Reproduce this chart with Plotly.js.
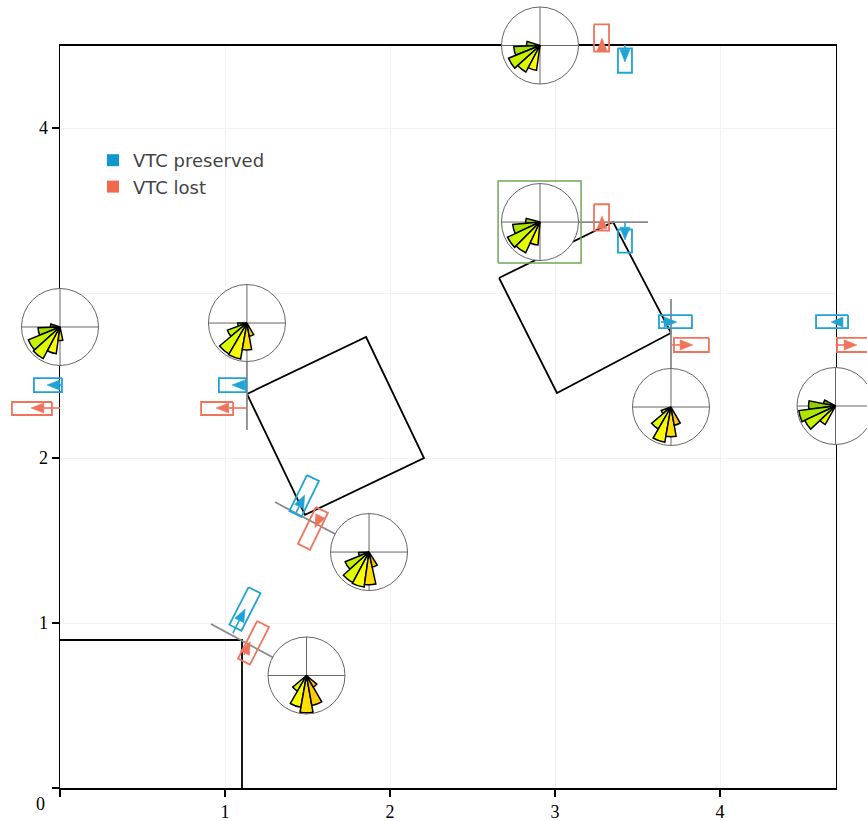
<!DOCTYPE html>
<html><head><meta charset="utf-8">
<script src="https://cdn.plot.ly/plotly-3.0.1.min.js"></script>
<style>html,body{margin:0;padding:0;overflow:hidden;background:#fff}</style>
</head><body><div id="chart" style="width:880px;height:821px"></div>
<script>
// ---------------- data (data units) ----------------
const seriesNames = ['VTC preserved', 'VTC lost'];
const xTickVals = [0, 1, 2, 3, 4];
const xTickText = ['', '1', '2', '3', '4'];
const yTickVals = [0, 1, 2, 4];
const yTickText = ['', '1', '2', '4'];

// obstacles
const sq1X = [0, 1.103, 1.103];
const sq1Y = [0.897, 0.897, 0];
const sq2X = [1.133, 1.855, 2.206, 1.485, 1.133];
const sq2Y = [2.388, 2.733, 2.000, 1.655, 2.388];
const sq3X = [2.661, 3.352, 3.703, 3.012, 2.661];
const sq3Y = [3.091, 3.430, 2.758, 2.394, 3.091];

// sensor lines
const lineX0 = [2.909, 3.703, 1.133, 1.303, 0.915];
const lineY0 = [3.430, 2.964, 2.818, 1.733, 0.994];
const lineX1 = [3.564, 3.703, 1.133, 1.873, 1.494];
const lineY1 = [3.430, 2.309, 2.170, 1.430, 0.682];

// highlighted rose box
const boxX = [2.655, 3.158, 3.158, 2.655, 2.655];
const boxY = [3.182, 3.182, 3.679, 3.679, 3.182];

// rose diagrams: centre + wedges
const roseX = [2.909, 2.909, 0.000, 1.133, 1.873, 1.494, 3.703, 4.700];
const roseY = [4.500, 3.430, 2.794, 2.818, 1.430, 0.682, 2.309, 2.315];
const roseTheta = [
  [172, 192, 212, 232, 252],
  [175, 195, 215, 235, 255],
  [172, 192, 212, 232, 252, 272],
  [190, 210, 230, 250, 270, 290],
  [192, 212, 232, 252, 272, 292],
  [230, 250, 270, 290, 310],
  [210, 230, 250, 270, 290],
  [160, 178, 196, 214, 232]
];
const roseR = [
  [0.35, 0.68, 0.88, 0.78, 0.65],
  [0.37, 0.71, 0.93, 0.88, 0.60],
  [0.25, 0.57, 0.89, 0.93, 0.70, 0.35],
  [0.24, 0.54, 0.93, 0.95, 0.70, 0.35],
  [0.27, 0.67, 0.90, 0.92, 0.85, 0.40],
  [0.47, 0.84, 0.97, 0.79, 0.35],
  [0.27, 0.66, 0.93, 0.77, 0.48],
  [0.32, 0.70, 0.96, 0.88, 0.55]
];
const roseWidth = [20, 20, 20, 20, 20, 20, 20, 18];

// gauge rectangles (series 0 = preserved, 1 = lost)
const rectSeries = [1, 0, 1, 0, 0, 1, 0, 1, 0, 1, 0, 1, 0, 1, 0, 1];
const rectCX = [3.282, 3.424, 3.282, 3.424, 3.730, 3.827, 4.679, 4.815, -0.073, -0.170, 1.045, 0.952, 1.480, 1.533, 1.121, 1.173];
const rectCY = [4.545, 4.409, 3.458, 3.315, 2.827, 2.685, 2.827, 2.685, 2.442, 2.300, 2.442, 2.300, 1.770, 1.573, 1.085, 0.880];
const rectAngle = [90, 90, 90, 90, 0, 0, 0, 0, 0, 0, 0, 0, 64, 64, 63, 63];
const rectLen = [0.165, 0.148, 0.160, 0.140, 0.200, 0.212, 0.194, 0.212, 0.170, 0.242, 0.164, 0.194, 0.242, 0.248, 0.255, 0.255];
const rectWid = [0.091, 0.085, 0.091, 0.085, 0.079, 0.085, 0.079, 0.085, 0.085, 0.079, 0.085, 0.079, 0.081, 0.081, 0.081, 0.081];

// gauge arrows
const arrowSeries = rectSeries;
const arrowTailX = [3.285, 3.424, 3.285, 3.424, 3.642, 3.703, 4.745, 4.700, 0.006, 0.000, 1.133, 1.133, 1.430, 1.579, 1.048, 1.115];
const arrowTailY = [4.461, 4.503, 3.382, 3.430, 2.824, 2.685, 2.824, 2.685, 2.442, 2.303, 2.442, 2.303, 1.667, 1.649, 0.939, 0.806];
const arrowTipX  = [3.285, 3.424, 3.285, 3.424, 3.739, 3.836, 4.673, 4.830, -0.079, -0.176, 1.042, 0.945, 1.483, 1.544, 1.122, 1.153];
const arrowTipY  = [4.545, 4.400, 3.467, 3.321, 2.824, 2.685, 2.824, 2.685, 2.442, 2.303, 2.442, 2.303, 1.776, 1.578, 1.085, 0.888];

// ---------------- layout constants ----------------
const W = 880, H = 821;
const L = 60, B = 788, S = 165;     // plot left px, bottom px, px per unit
const XMAX = 4.7, YMAX = 4.5;
const ROSE_R = 38.5;
const HEAD_LEN = 0.078, HEAD_WID = 0.062;
const seriesColor = ['#1fa3d6', '#f0735c'];
const legendColor = ['#0e98cf', '#f0694f'];
const serif = 'Liberation Serif';
const TICK_SIZE = 18;

const traces = [];
function lineTrace(xs, ys, color, width) {
  traces.push({type: 'scatter', mode: 'lines', x: xs, y: ys, xaxis: 'x2', yaxis: 'y2',
    line: {color: color, width: width}, hoverinfo: 'skip', showlegend: false});
}

// legend entries (on the framed axes so that subplot is created)
for (let s = 0; s < 2; s++) {
  traces.push({type: 'scatter', mode: 'markers', x: [null], y: [null], xaxis: 'x', yaxis: 'y',
    name: seriesNames[s], marker: {symbol: 'square', size: 12, color: legendColor[s]}, showlegend: true});
}

lineTrace(sq1X, sq1Y, '#000', 1.8);
lineTrace(sq2X, sq2Y, '#000', 1.8);
lineTrace(sq3X, sq3Y, '#000', 1.8);

// sensor lines
{
  const xs = [], ys = [];
  for (let i = 0; i < lineX0.length; i++) { xs.push(lineX0[i], lineX1[i], null); ys.push(lineY0[i], lineY1[i], null); }
  lineTrace(xs, ys, '#8a8a8a', 1.8);
}
lineTrace(boxX, boxY, '#6fa855', 1.5);

// rectangles + arrows per series
for (let s = 0; s < 2; s++) {
  const rx = [], ry = [], ax = [], ay = [], sx = [], sy = [];
  for (let i = 0; i < rectCX.length; i++) {
    if (rectSeries[i] !== s) continue;
    const a = rectAngle[i] * Math.PI / 180;
    const dx = Math.cos(a), dy = Math.sin(a), nx = -dy, ny = dx;
    const hl = rectLen[i] / 2, hw = rectWid[i] / 2;
    const c = [[hl, hw], [hl, -hw], [-hl, -hw], [-hl, hw], [hl, hw]];
    c.forEach(p => { rx.push(rectCX[i] + dx * p[0] + nx * p[1]); ry.push(rectCY[i] + dy * p[0] + ny * p[1]); });
    rx.push(null); ry.push(null);
  }
  for (let i = 0; i < arrowTailX.length; i++) {
    if (arrowSeries[i] !== s) continue;
    let vx = arrowTipX[i] - arrowTailX[i], vy = arrowTipY[i] - arrowTailY[i];
    const dist = Math.hypot(vx, vy); vx /= dist; vy /= dist;
    const hlen = Math.min(HEAD_LEN, dist);
    const bx = arrowTipX[i] - vx * hlen, by = arrowTipY[i] - vy * hlen;
    const nx = -vy, ny = vx;
    ax.push(arrowTipX[i], bx + nx * HEAD_WID / 2, bx - nx * HEAD_WID / 2, arrowTipX[i], null);
    ay.push(arrowTipY[i], by + ny * HEAD_WID / 2, by - ny * HEAD_WID / 2, arrowTipY[i], null);
    if (dist - hlen > 0.004) { sx.push(arrowTailX[i], bx, null); sy.push(arrowTailY[i], by, null); }
  }
  lineTrace(rx, ry, seriesColor[s], 1.8);
  if (sx.length) lineTrace(sx, sy, seriesColor[s], 1.6);
  traces.push({type: 'scatter', mode: 'lines', x: ax, y: ay, xaxis: 'x2', yaxis: 'y2', fill: 'toself',
    fillcolor: seriesColor[s], line: {color: seriesColor[s], width: 0.5}, hoverinfo: 'skip', showlegend: false});
}

const roseScale = [[0, '#78b400'], [0.125, '#96d200'], [0.25, '#b4ea00'], [0.375, '#d2f800'], [0.5, '#ecff00'],
  [0.594, '#ffff00'], [0.6875, '#ffe000'], [0.8125, '#ffcc00'], [1, '#ffb800']];

const layout = {
  width: W, height: H,
  margin: {l: 0, r: 0, t: 0, b: 0},
  paper_bgcolor: '#fff', plot_bgcolor: 'rgba(0,0,0,0)',
  showlegend: true,
  legend: {x: 93 / W, y: 1 - 142 / H, xanchor: 'left', yanchor: 'top', bgcolor: 'rgba(0,0,0,0)',
    font: {family: 'DejaVu Sans', size: 18, color: '#444'}, itemwidth: 30, tracegroupgap: 0},
  xaxis: {domain: [L / W, (L + XMAX * S) / W], range: [0, XMAX], anchor: 'y', showline: true, mirror: true,
    linecolor: '#000', linewidth: 1.5, ticks: 'outside', ticklen: 7, tickwidth: 1.5, tickcolor: '#000',
    tickmode: 'array', tickvals: xTickVals, ticktext: xTickText, showgrid: true, gridcolor: '#f2f2f2', zeroline: false,
    tickfont: {family: serif, size: TICK_SIZE, color: '#000'}, fixedrange: true},
  yaxis: {domain: [(H - B) / H, (H - B + YMAX * S) / H], range: [0, YMAX], anchor: 'x', showline: true, mirror: true,
    linecolor: '#000', linewidth: 1.5, ticks: 'outside', ticklen: 7, tickwidth: 1.5, tickcolor: '#000',
    tickmode: 'array', tickvals: yTickVals, ticktext: yTickText, showgrid: true, gridcolor: '#f2f2f2', zeroline: false,
    minor: {tickvals: [3], showgrid: true, gridcolor: '#f2f2f2', ticks: ''},
    tickfont: {family: serif, size: TICK_SIZE, color: '#000'}, fixedrange: true},
  xaxis2: {domain: [0, 1], range: [-L / S, (W - L) / S], anchor: 'y2', visible: false, fixedrange: true},
  yaxis2: {domain: [0, 1], range: [-(H - B) / S, B / S], anchor: 'x2', visible: false, fixedrange: true},
  annotations: [{xref: 'paper', yref: 'paper', x: 40 / W, y: 1 - 804 / H, xanchor: 'center', yanchor: 'middle',
    text: '0', showarrow: false, font: {family: serif, size: TICK_SIZE, color: '#000'}}]
};

for (let i = 0; i < roseX.length; i++) {
  const key = 'polar' + (i ? i + 1 : '');
  const px = L + roseX[i] * S, py = B - roseY[i] * S;
  layout[key] = {
    domain: {x: [(px - ROSE_R) / W, (px + ROSE_R) / W], y: [(H - py - ROSE_R) / H, (H - py + ROSE_R) / H]},
    bgcolor: '#fff',
    radialaxis: {visible: true, range: [0, 1], autorange: false, showline: false, showticklabels: false,
      ticks: '', showgrid: false},
    angularaxis: {showline: true, linecolor: '#666', linewidth: 1, showgrid: true, gridcolor: '#666', gridwidth: 1,
      tickmode: 'linear', tick0: 0, dtick: 90, showticklabels: false, ticks: ''}
  };
  traces.push({type: 'barpolar', subplot: key, r: roseR[i], theta: roseTheta[i], width: roseWidth[i],
    marker: {color: roseTheta[i], colorscale: roseScale, cmin: 160, cmax: 320, line: {color: '#000', width: 1.5}},
    hoverinfo: 'skip', showlegend: false});
}

Plotly.newPlot('chart', traces, layout, {displayModeBar: false, staticPlot: true});
</script></body></html>
